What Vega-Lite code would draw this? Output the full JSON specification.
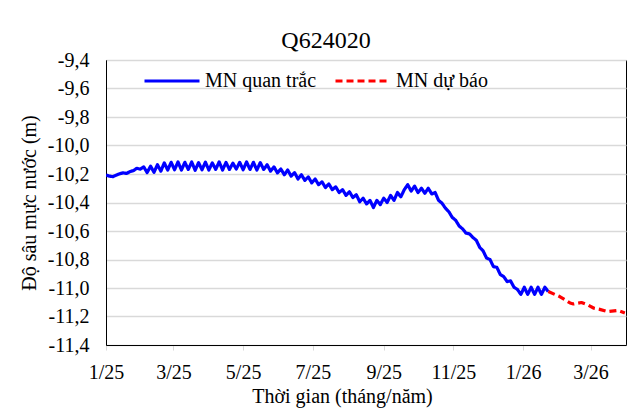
{
  "$schema": "https://vega.github.io/schema/vega-lite/v6.json",
  "autosize": "none",
  "width": 520,
  "height": 285,
  "padding": {"left": 106, "top": 60, "right": 11, "bottom": 73},
  "background": "white",
  "config": {
    "locale": {"number": {"decimal": ",", "thousands": ".", "grouping": [3], "currency": ["", ""], "minus": "-"}},
    "view": {"stroke": "#000000", "strokeWidth": 1},
    "font": "'Liberation Serif', 'Times New Roman', serif"
  },
  "title": {"text": "Q624020", "font": "'Liberation Serif', 'Times New Roman', serif", "fontSize": 24, "fontWeight": "normal", "color": "#000000", "anchor": "middle", "frame": "group", "dx": -40, "baseline": "alphabetic", "offset": -22},
  "data": {"values": [
    {"date": "2025-01-01", "value": -10.207, "series": "MN quan trắc"},
    {"date": "2025-01-04", "value": -10.215, "series": "MN quan trắc"},
    {"date": "2025-01-07", "value": -10.219, "series": "MN quan trắc"},
    {"date": "2025-01-10", "value": -10.208, "series": "MN quan trắc"},
    {"date": "2025-01-13", "value": -10.198, "series": "MN quan trắc"},
    {"date": "2025-01-16", "value": -10.192, "series": "MN quan trắc"},
    {"date": "2025-01-19", "value": -10.196, "series": "MN quan trắc"},
    {"date": "2025-01-22", "value": -10.183, "series": "MN quan trắc"},
    {"date": "2025-01-25", "value": -10.176, "series": "MN quan trắc"},
    {"date": "2025-01-28", "value": -10.160, "series": "MN quan trắc"},
    {"date": "2025-01-31", "value": -10.166, "series": "MN quan trắc"},
    {"date": "2025-02-03", "value": -10.150, "series": "MN quan trắc"},
    {"date": "2025-02-06", "value": -10.190, "series": "MN quan trắc"},
    {"date": "2025-02-09", "value": -10.145, "series": "MN quan trắc"},
    {"date": "2025-02-12", "value": -10.188, "series": "MN quan trắc"},
    {"date": "2025-02-15", "value": -10.135, "series": "MN quan trắc"},
    {"date": "2025-02-18", "value": -10.180, "series": "MN quan trắc"},
    {"date": "2025-02-21", "value": -10.122, "series": "MN quan trắc"},
    {"date": "2025-02-24", "value": -10.172, "series": "MN quan trắc"},
    {"date": "2025-02-27", "value": -10.118, "series": "MN quan trắc"},
    {"date": "2025-03-02", "value": -10.170, "series": "MN quan trắc"},
    {"date": "2025-03-05", "value": -10.115, "series": "MN quan trắc"},
    {"date": "2025-03-08", "value": -10.172, "series": "MN quan trắc"},
    {"date": "2025-03-11", "value": -10.118, "series": "MN quan trắc"},
    {"date": "2025-03-14", "value": -10.168, "series": "MN quan trắc"},
    {"date": "2025-03-17", "value": -10.116, "series": "MN quan trắc"},
    {"date": "2025-03-20", "value": -10.174, "series": "MN quan trắc"},
    {"date": "2025-03-23", "value": -10.120, "series": "MN quan trắc"},
    {"date": "2025-03-26", "value": -10.170, "series": "MN quan trắc"},
    {"date": "2025-03-29", "value": -10.117, "series": "MN quan trắc"},
    {"date": "2025-04-01", "value": -10.172, "series": "MN quan trắc"},
    {"date": "2025-04-04", "value": -10.122, "series": "MN quan trắc"},
    {"date": "2025-04-07", "value": -10.168, "series": "MN quan trắc"},
    {"date": "2025-04-10", "value": -10.115, "series": "MN quan trắc"},
    {"date": "2025-04-13", "value": -10.172, "series": "MN quan trắc"},
    {"date": "2025-04-16", "value": -10.119, "series": "MN quan trắc"},
    {"date": "2025-04-19", "value": -10.168, "series": "MN quan trắc"},
    {"date": "2025-04-22", "value": -10.124, "series": "MN quan trắc"},
    {"date": "2025-04-25", "value": -10.165, "series": "MN quan trắc"},
    {"date": "2025-04-28", "value": -10.118, "series": "MN quan trắc"},
    {"date": "2025-05-01", "value": -10.170, "series": "MN quan trắc"},
    {"date": "2025-05-04", "value": -10.115, "series": "MN quan trắc"},
    {"date": "2025-05-07", "value": -10.168, "series": "MN quan trắc"},
    {"date": "2025-05-10", "value": -10.118, "series": "MN quan trắc"},
    {"date": "2025-05-13", "value": -10.172, "series": "MN quan trắc"},
    {"date": "2025-05-16", "value": -10.120, "series": "MN quan trắc"},
    {"date": "2025-05-19", "value": -10.168, "series": "MN quan trắc"},
    {"date": "2025-05-22", "value": -10.135, "series": "MN quan trắc"},
    {"date": "2025-05-25", "value": -10.180, "series": "MN quan trắc"},
    {"date": "2025-05-28", "value": -10.150, "series": "MN quan trắc"},
    {"date": "2025-05-31", "value": -10.192, "series": "MN quan trắc"},
    {"date": "2025-06-03", "value": -10.165, "series": "MN quan trắc"},
    {"date": "2025-06-06", "value": -10.205, "series": "MN quan trắc"},
    {"date": "2025-06-09", "value": -10.172, "series": "MN quan trắc"},
    {"date": "2025-06-12", "value": -10.215, "series": "MN quan trắc"},
    {"date": "2025-06-15", "value": -10.190, "series": "MN quan trắc"},
    {"date": "2025-06-18", "value": -10.235, "series": "MN quan trắc"},
    {"date": "2025-06-21", "value": -10.205, "series": "MN quan trắc"},
    {"date": "2025-06-24", "value": -10.245, "series": "MN quan trắc"},
    {"date": "2025-06-27", "value": -10.220, "series": "MN quan trắc"},
    {"date": "2025-06-30", "value": -10.262, "series": "MN quan trắc"},
    {"date": "2025-07-03", "value": -10.235, "series": "MN quan trắc"},
    {"date": "2025-07-06", "value": -10.275, "series": "MN quan trắc"},
    {"date": "2025-07-09", "value": -10.255, "series": "MN quan trắc"},
    {"date": "2025-07-12", "value": -10.295, "series": "MN quan trắc"},
    {"date": "2025-07-15", "value": -10.270, "series": "MN quan trắc"},
    {"date": "2025-07-18", "value": -10.310, "series": "MN quan trắc"},
    {"date": "2025-07-21", "value": -10.290, "series": "MN quan trắc"},
    {"date": "2025-07-24", "value": -10.330, "series": "MN quan trắc"},
    {"date": "2025-07-27", "value": -10.310, "series": "MN quan trắc"},
    {"date": "2025-07-30", "value": -10.350, "series": "MN quan trắc"},
    {"date": "2025-08-02", "value": -10.325, "series": "MN quan trắc"},
    {"date": "2025-08-05", "value": -10.365, "series": "MN quan trắc"},
    {"date": "2025-08-08", "value": -10.345, "series": "MN quan trắc"},
    {"date": "2025-08-11", "value": -10.395, "series": "MN quan trắc"},
    {"date": "2025-08-14", "value": -10.370, "series": "MN quan trắc"},
    {"date": "2025-08-17", "value": -10.410, "series": "MN quan trắc"},
    {"date": "2025-08-20", "value": -10.385, "series": "MN quan trắc"},
    {"date": "2025-08-23", "value": -10.435, "series": "MN quan trắc"},
    {"date": "2025-08-26", "value": -10.385, "series": "MN quan trắc"},
    {"date": "2025-08-29", "value": -10.415, "series": "MN quan trắc"},
    {"date": "2025-09-01", "value": -10.370, "series": "MN quan trắc"},
    {"date": "2025-09-04", "value": -10.400, "series": "MN quan trắc"},
    {"date": "2025-09-07", "value": -10.350, "series": "MN quan trắc"},
    {"date": "2025-09-10", "value": -10.385, "series": "MN quan trắc"},
    {"date": "2025-09-13", "value": -10.330, "series": "MN quan trắc"},
    {"date": "2025-09-16", "value": -10.360, "series": "MN quan trắc"},
    {"date": "2025-09-19", "value": -10.310, "series": "MN quan trắc"},
    {"date": "2025-09-22", "value": -10.275, "series": "MN quan trắc"},
    {"date": "2025-09-25", "value": -10.320, "series": "MN quan trắc"},
    {"date": "2025-09-28", "value": -10.285, "series": "MN quan trắc"},
    {"date": "2025-10-01", "value": -10.330, "series": "MN quan trắc"},
    {"date": "2025-10-04", "value": -10.300, "series": "MN quan trắc"},
    {"date": "2025-10-07", "value": -10.335, "series": "MN quan trắc"},
    {"date": "2025-10-10", "value": -10.300, "series": "MN quan trắc"},
    {"date": "2025-10-13", "value": -10.340, "series": "MN quan trắc"},
    {"date": "2025-10-16", "value": -10.330, "series": "MN quan trắc"},
    {"date": "2025-10-19", "value": -10.385, "series": "MN quan trắc"},
    {"date": "2025-10-22", "value": -10.405, "series": "MN quan trắc"},
    {"date": "2025-10-25", "value": -10.440, "series": "MN quan trắc"},
    {"date": "2025-10-28", "value": -10.465, "series": "MN quan trắc"},
    {"date": "2025-10-31", "value": -10.505, "series": "MN quan trắc"},
    {"date": "2025-11-03", "value": -10.525, "series": "MN quan trắc"},
    {"date": "2025-11-06", "value": -10.565, "series": "MN quan trắc"},
    {"date": "2025-11-09", "value": -10.585, "series": "MN quan trắc"},
    {"date": "2025-11-12", "value": -10.615, "series": "MN quan trắc"},
    {"date": "2025-11-15", "value": -10.620, "series": "MN quan trắc"},
    {"date": "2025-11-18", "value": -10.645, "series": "MN quan trắc"},
    {"date": "2025-11-21", "value": -10.665, "series": "MN quan trắc"},
    {"date": "2025-11-24", "value": -10.715, "series": "MN quan trắc"},
    {"date": "2025-11-27", "value": -10.740, "series": "MN quan trắc"},
    {"date": "2025-11-30", "value": -10.790, "series": "MN quan trắc"},
    {"date": "2025-12-03", "value": -10.800, "series": "MN quan trắc"},
    {"date": "2025-12-06", "value": -10.850, "series": "MN quan trắc"},
    {"date": "2025-12-09", "value": -10.855, "series": "MN quan trắc"},
    {"date": "2025-12-12", "value": -10.905, "series": "MN quan trắc"},
    {"date": "2025-12-15", "value": -10.920, "series": "MN quan trắc"},
    {"date": "2025-12-18", "value": -10.955, "series": "MN quan trắc"},
    {"date": "2025-12-21", "value": -10.950, "series": "MN quan trắc"},
    {"date": "2025-12-24", "value": -10.995, "series": "MN quan trắc"},
    {"date": "2025-12-27", "value": -11.010, "series": "MN quan trắc"},
    {"date": "2025-12-30", "value": -11.045, "series": "MN quan trắc"},
    {"date": "2026-01-02", "value": -10.995, "series": "MN quan trắc"},
    {"date": "2026-01-05", "value": -11.045, "series": "MN quan trắc"},
    {"date": "2026-01-08", "value": -10.995, "series": "MN quan trắc"},
    {"date": "2026-01-11", "value": -11.045, "series": "MN quan trắc"},
    {"date": "2026-01-14", "value": -10.995, "series": "MN quan trắc"},
    {"date": "2026-01-17", "value": -11.045, "series": "MN quan trắc"},
    {"date": "2026-01-20", "value": -10.995, "series": "MN quan trắc"},
    {"date": "2026-01-23", "value": -11.025, "series": "MN quan trắc"},
    {"date": "2026-01-23", "value": -11.025, "series": "MN dự báo"},
    {"date": "2026-02-02", "value": -11.060, "series": "MN dự báo"},
    {"date": "2026-02-07", "value": -11.085, "series": "MN dự báo"},
    {"date": "2026-02-11", "value": -11.105, "series": "MN dự báo"},
    {"date": "2026-02-14", "value": -11.112, "series": "MN dự báo"},
    {"date": "2026-02-21", "value": -11.102, "series": "MN dự báo"},
    {"date": "2026-02-27", "value": -11.120, "series": "MN dự báo"},
    {"date": "2026-03-04", "value": -11.142, "series": "MN dự báo"},
    {"date": "2026-03-09", "value": -11.150, "series": "MN dự báo"},
    {"date": "2026-03-16", "value": -11.166, "series": "MN dự báo"},
    {"date": "2026-03-25", "value": -11.158, "series": "MN dự báo"},
    {"date": "2026-03-31", "value": -11.175, "series": "MN dự báo"}
  ]},
  "mark": {"type": "line", "strokeWidth": 3.2, "strokeJoin": "round", "strokeCap": "butt", "clip": true},
  "encoding": {
    "x": {
      "field": "date", "type": "temporal",
      "scale": {"type": "utc", "domain": [{"year": 2025, "month": 1, "date": 1, "utc": true}, {"year": 2026, "month": 4, "date": 1, "utc": true}], "nice": false},
      "axis": {
        "values": [
          {"year": 2025, "month": 1, "date": 1, "utc": true},
          {"year": 2025, "month": 3, "date": 1, "utc": true},
          {"year": 2025, "month": 5, "date": 1, "utc": true},
          {"year": 2025, "month": 7, "date": 1, "utc": true},
          {"year": 2025, "month": 9, "date": 1, "utc": true},
          {"year": 2025, "month": 11, "date": 1, "utc": true},
          {"year": 2026, "month": 1, "date": 1, "utc": true},
          {"year": 2026, "month": 3, "date": 1, "utc": true}
        ],
        "format": "%-m/%y",
        "title": "Thời gian (tháng/năm)",
        "titleFont": "'Liberation Serif', 'Times New Roman', serif", "titleFontSize": 20, "titleFontWeight": "normal", "titleColor": "#000000",
        "titlePadding": 4, "titleX": 236, "titleAnchor": "middle",
        "labelFont": "'Liberation Serif', 'Times New Roman', serif", "labelFontSize": 20, "labelColor": "#000000", "labelPadding": 12,
        "labelFlush": false, "labelOverlap": false,
        "grid": false, "domainColor": "#000000", "domainWidth": 1,
        "ticks": true, "tickSize": 5, "tickColor": "#d9d9d9"
      }
    },
    "y": {
      "field": "value", "type": "quantitative",
      "scale": {"domain": [-11.4, -9.4], "nice": false, "zero": false},
      "axis": {
        "values": [-11.4, -11.2, -11.0, -10.8, -10.6, -10.4, -10.2, -10.0, -9.8, -9.6, -9.4],
        "format": ".1f",
        "title": "Độ sâu mực nước (m)",
        "titleFont": "'Liberation Serif', 'Times New Roman', serif", "titleFontSize": 20, "titleFontWeight": "normal", "titleColor": "#000000",
        "titlePadding": 8,
        "labelFont": "'Liberation Serif', 'Times New Roman', serif", "labelFontSize": 20, "labelColor": "#000000", "labelPadding": 17,
        "labelFlush": false, "labelOverlap": false,
        "grid": true, "gridColor": "#d9d9d9", "gridWidth": 1.3,
        "ticks": false, "domainColor": "#000000", "domainWidth": 1
      }
    },
    "color": {
      "field": "series", "type": "nominal",
      "scale": {"domain": ["MN quan trắc", "MN dự báo"], "range": ["#0000ff", "#ff0000"]},
      "legend": {
        "title": null, "orient": "none", "legendX": 37, "legendY": -8, "direction": "horizontal",
        "symbolType": "stroke", "symbolSize": 3025, "symbolStrokeWidth": 3,
        "labelFont": "'Liberation Serif', 'Times New Roman', serif", "labelFontSize": 20, "labelColor": "#000000", "labelLimit": 300,
        "labelOffset": 4, "columnPadding": 12
      }
    },
    "strokeDash": {
      "field": "series", "type": "nominal",
      "scale": {"domain": ["MN quan trắc", "MN dự báo"], "range": [[1, 0], [7, 4]]},
      "legend": {
        "title": null, "orient": "none", "legendX": 37, "legendY": -8, "direction": "horizontal",
        "symbolType": "stroke", "symbolSize": 3025, "symbolStrokeWidth": 3,
        "labelFont": "'Liberation Serif', 'Times New Roman', serif", "labelFontSize": 20, "labelColor": "#000000", "labelLimit": 300,
        "labelOffset": 4, "columnPadding": 12
      }
    }
  }
}
